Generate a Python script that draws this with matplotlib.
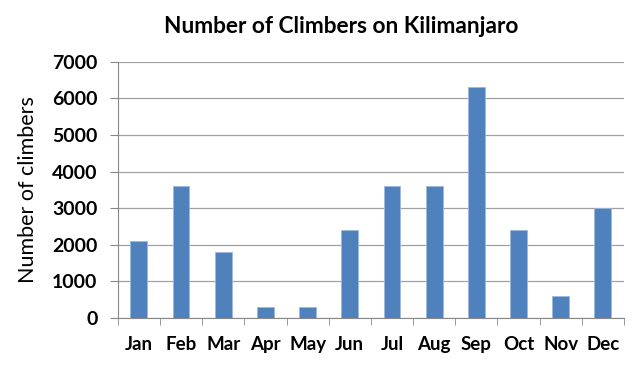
import matplotlib.pyplot as plt
import numpy as np

months = ["Jan", "Feb", "Mar", "Apr", "May", "Jun", "Jul", "Aug", "Sep", "Oct", "Nov", "Dec"]
climbers = [2100, 3600, 1800, 300, 300, 2400, 3600, 3600, 6300, 2400, 600, 3000]
yticks = [0, 1000, 2000, 3000, 4000, 5000, 6000, 7000]

plt.rcParams['font.family'] = ['Lato', 'DejaVu Sans']

fig = plt.figure(figsize=(6.4, 3.68), dpi=100)
ax = fig.add_axes([0.184, 0.136, 0.791, 0.696])

x = np.arange(len(months))
ax.bar(x, climbers, width=0.4, color="#4F81BD", edgecolor="#9DB9DD", linewidth=0.6, zorder=3)

ax.set_xlim(-0.5, len(months) - 0.5)
ax.set_ylim(0, 7000)
ax.set_yticks(yticks)
ax.set_yticklabels([str(v) for v in yticks], fontsize=14, fontweight="bold")
ax.set_xticks(x)
ax.set_xticklabels(months, fontsize=13.5, fontweight="bold")
ax.tick_params(axis="x", which="major", length=0, pad=13)
ax.set_xticks(np.arange(-0.5, len(months)), minor=True)
ax.tick_params(axis="x", which="minor", length=5, color="#888888")
ax.tick_params(axis="y", length=5.5, color="#888888", pad=9)

ax.grid(axis="y", color="#A0A0A0", linewidth=0.9, zorder=0)
for s in ["top", "right"]:
    ax.spines[s].set_visible(False)
for s in ["left", "bottom"]:
    ax.spines[s].set_color("#888888")

ax.set_ylabel("Number of climbers", fontsize=15.5, labelpad=10)
fig.text(0.533, 0.929, "Number of Climbers on Kilimanjaro", fontsize=16.3,
         fontweight="bold", ha="center", va="center")

fig.savefig("out.png", dpi=100)
